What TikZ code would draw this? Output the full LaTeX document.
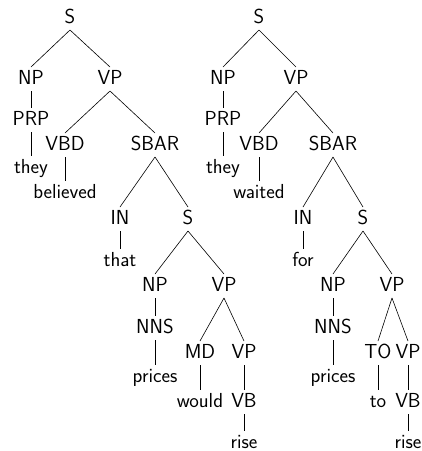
\documentclass[tikz,border=0pt]{standalone}
\usepackage{fontspec}
\usepackage{tikz}
\usetikzlibrary{positioning}

\begin{document}
\begin{tikzpicture}[-, x=1pt, y=-1pt, line width=0.6pt, main node/.style={anchor=base, font=\fontsize{20.3}{22}\sffamily, text height=14pt, text depth=4pt, inner xsep=0pt, inner ysep=2.7pt}]
\useasboundingbox (0,0) rectangle (422,451);
% left tree
\node[main node] (1) at (70,23) {S};
\node[main node] (2) at (31,84) {NP};
\node[main node] (3) at (110,84) {VP};
\node[main node] (4) at (31,125) {PRP};
\node[main node] (5) at (31,173) {they};
\node[main node] (6) at (65,150) {VBD};
\node[main node] (7) at (155,150) {SBAR};
\node[main node] (8) at (65,198) {believed};
\node[main node] (9) at (120,224) {IN};
\node[main node] (10) at (188,224) {S};
\node[main node] (11) at (120,266) {that};
\node[main node] (12) at (155,291) {NP};
\node[main node] (13) at (224,291) {VP};
\node[main node] (14) at (155,333) {NNS};
\node[main node] (15) at (155,382) {prices};
\node[main node] (16) at (200,358) {MD};
\node[main node] (17) at (244,358) {VP};
\node[main node] (18) at (200,407) {would};
\node[main node] (19) at (244,407) {VB};
\node[main node] (20) at (244,448) {rise};
% right tree
\node[main node] (21) at (259,23) {S};
\node[main node] (22) at (223,84) {NP};
\node[main node] (23) at (296,84) {VP};
\node[main node] (24) at (223,125) {PRP};
\node[main node] (25) at (223,173) {they};
\node[main node] (26) at (259,150) {VBD};
\node[main node] (27) at (333,150) {SBAR};
\node[main node] (28) at (259,198) {waited};
\node[main node] (29) at (303,224) {IN};
\node[main node] (30) at (363,224) {S};
\node[main node] (31) at (303,266) {for};
\node[main node] (32) at (333,291) {NP};
\node[main node] (33) at (392,291) {VP};
\node[main node] (34) at (333,333) {NNS};
\node[main node] (35) at (333,382) {prices};
\node[main node] (36) at (378,358) {TO};
\node[main node] (37) at (408,358) {VP};
\node[main node] (38) at (378,407) {to};
\node[main node] (39) at (408,407) {VB};
\node[main node] (40) at (408,448) {rise};
\path
(1.south) edge (2.north)
(1.south) edge (3.north)
(2.south) edge (4.north)
(4.south) edge (5.north)
(3.south) edge (6.north)
(3.south) edge (7.north)
(6.south) edge (8.north)
(7.south) edge (9.north)
(7.south) edge (10.north)
(9.south) edge (11.north)
(10.south) edge (12.north)
(10.south) edge (13.north)
(12.south) edge (14.north)
(14.south) edge (15.north)
(13.south) edge (16.north)
(13.south) edge (17.north)
(16.south) edge (18.north)
(17.south) edge (19.north)
(19.south) edge (20.north);
\path
(21.south) edge (22.north)
(21.south) edge (23.north)
(22.south) edge (24.north)
(24.south) edge (25.north)
(23.south) edge (26.north)
(23.south) edge (27.north)
(26.south) edge (28.north)
(27.south) edge (29.north)
(27.south) edge (30.north)
(29.south) edge (31.north)
(30.south) edge (32.north)
(30.south) edge (33.north)
(32.south) edge (34.north)
(34.south) edge (35.north)
(33.south) edge (36.north)
(33.south) edge (37.north)
(36.south) edge (38.north)
(37.south) edge (39.north)
(39.south) edge (40.north);
\end{tikzpicture}
\end{document}
